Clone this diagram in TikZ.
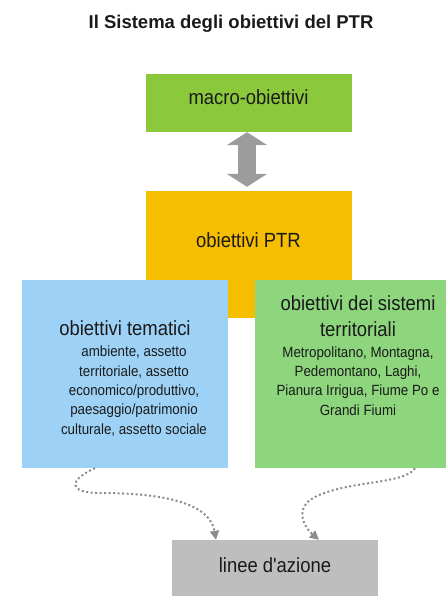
\documentclass[tikz,border=0pt]{standalone}
\usepackage{fontspec}
\setmainfont{Liberation Sans}
\newfontfamily\boxfont[FakeStretch=0.9]{Liberation Sans}
\usetikzlibrary{arrows.meta}

\definecolor{macrogreen}{HTML}{8CC83C}
\definecolor{ptrgold}{HTML}{F6BE00}
\definecolor{temblue}{HTML}{9DD2F6}
\definecolor{sisgreen}{HTML}{8DD67D}
\definecolor{linegrey}{HTML}{BEBEBE}
\definecolor{arrowgrey}{HTML}{9C9C9C}
\definecolor{dotgrey}{HTML}{8C8C8C}
\definecolor{textgrey}{HTML}{1A1A1A}

\newcommand{\listfont}{\fontsize{14.8}{19.3}\selectfont}
\newcommand{\temline}{\listfont\hspace*{18pt}}

\begin{document}
\begin{tikzpicture}[x=1pt, y=-1pt,
    box/.style={minimum width=206pt, inner sep=0pt, align=center, text=textgrey, font=\boxfont\fontsize{20.5}{19.3}\selectfont},
    dotlink/.style={draw=dotgrey, line width=2pt, dash pattern=on 2pt off 2.5pt, -{Triangle[length=9pt, width=9pt]}}]
    \useasboundingbox (0,0) rectangle (445,596);

    \node[text=textgrey, font=\bfseries\fontsize{18.5}{22}\selectfont]  (title)  at (231, 24)  {Il Sistema degli obiettivi del PTR};

    \node[box, fill=macrogreen, minimum height=58pt,  text depth=12pt]  (macro)  at (248.5, 103)    {macro-obiettivi};
    \node[box, fill=ptrgold,    minimum height=127pt, text depth=29pt]  (ptr)    at (248.5, 254.5)  {obiettivi PTR};

    \node[box, fill=temblue,  minimum height=188pt, text height=120pt, text depth=0pt]  (tem)  at (125, 374)  {obiettivi tematici\\[1.7pt]\temline ambiente, assetto\\ \temline territoriale, assetto\\ \temline economico/produttivo,\\ \temline paesaggio/patrimonio\\ \temline culturale, assetto sociale};
    \node[box, fill=sisgreen, minimum height=188pt, text height=82pt, text depth=0pt]   (sis)  at (358, 374)  {obiettivi dei sistemi\\[6.7pt] territoriali\\[1.7pt]\listfont Metropolitano, Montagna,\\ \listfont Pedemontano, Laghi,\\ \listfont Pianura Irrigua, Fiume Po e\\ \listfont Grandi Fiumi};

    \node[box, fill=linegrey, minimum height=58pt, text depth=8pt]      (lin)    at (275, 569)  {linee d'azione};

    \draw[line width=18pt, arrowgrey, {Triangle[length=13pt, width=40pt]}-{Triangle[length=13pt, width=40pt]}] ([xshift=-1.5pt]macro.south) -- ([xshift=-1.5pt, yshift=4pt]ptr.north);

    \draw[dotlink] ([xshift=-30pt]tem.south) .. controls +(-27,12) and (68,493) .. (100,493) .. controls (170,493) and (210,505) .. ([xshift=-59pt]lin.north);
    \draw[dotlink] ([xshift=57pt]sis.south) .. controls +(-10,17) and (340,480) .. (310,500) .. controls (295,512) and (305,528) .. ([xshift=44pt]lin.north);
\end{tikzpicture}
\end{document}
